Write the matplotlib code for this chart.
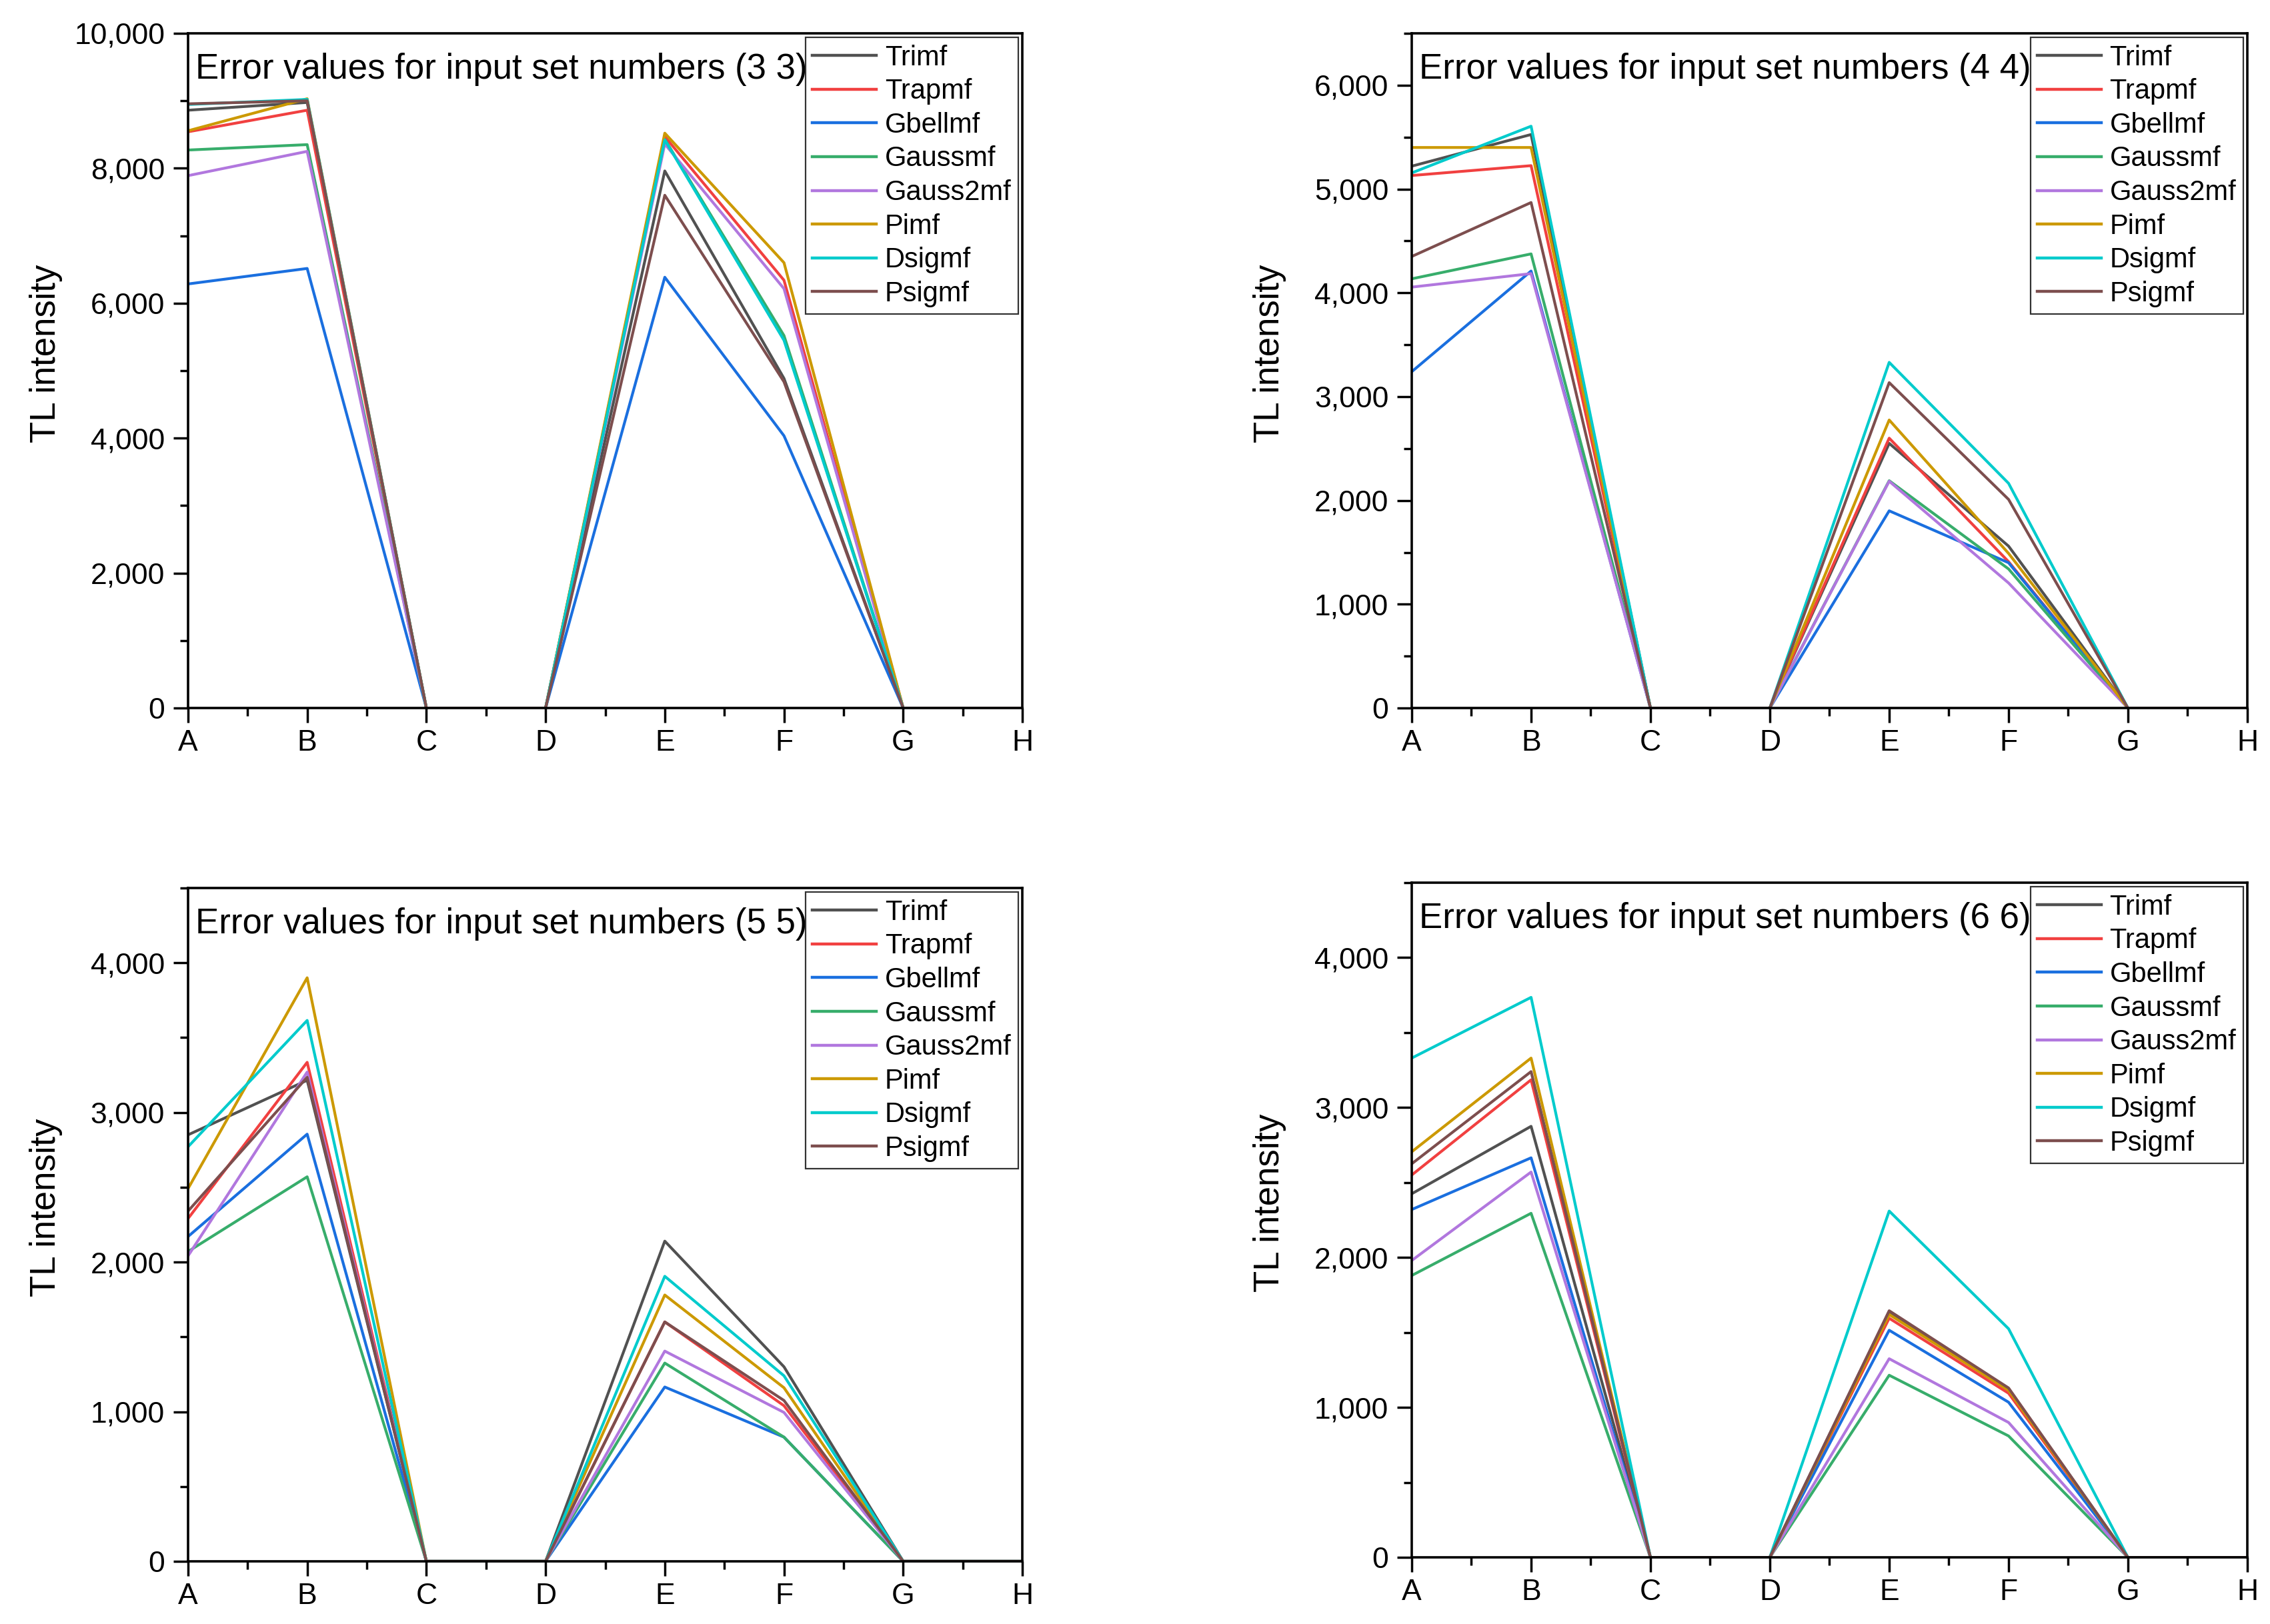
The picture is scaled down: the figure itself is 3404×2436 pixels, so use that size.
import matplotlib
matplotlib.use("Agg")
import matplotlib.pyplot as plt
from matplotlib.ticker import MultipleLocator, FuncFormatter

plt.rcParams['font.family'] = ['Liberation Sans', 'DejaVu Sans']

categories = ['A', 'B', 'C', 'D', 'E', 'F', 'G', 'H']
methods = ['Trimf', 'Trapmf', 'Gbellmf', 'Gaussmf', 'Gauss2mf', 'Pimf', 'Dsigmf', 'Psigmf']
colors = ['#515151', '#F14040', '#1A6FDF', '#37AD6B', '#B177DE', '#CC9900', '#00CBCC', '#7D4E4E']

# input set numbers (3 3)
set33_trimf    = [8860, 8975, 0, 0, 7960, 4885, 0, 0]
set33_trapmf   = [8540, 8860, 0, 0, 8470, 6340, 0, 0]
set33_gbellmf  = [6285, 6515, 0, 0, 6385, 4035, 0, 0]
set33_gaussmf  = [8270, 8350, 0, 0, 8430, 5520, 0, 0]
set33_gauss2mf = [7890, 8250, 0, 0, 8360, 6215, 0, 0]
set33_pimf     = [8555, 9030, 0, 0, 8520, 6600, 0, 0]
set33_dsigmf   = [8945, 9020, 0, 0, 8420, 5450, 0, 0]
set33_psigmf   = [8955, 9000, 0, 0, 7600, 4835, 0, 0]

# input set numbers (4 4)
set44_trimf    = [5220, 5525, 0, 0, 2550, 1560, 0, 0]
set44_trapmf   = [5130, 5225, 0, 0, 2600, 1410, 0, 0]
set44_gbellmf  = [3240, 4210, 0, 0, 1900, 1400, 0, 0]
set44_gaussmf  = [4135, 4375, 0, 0, 2190, 1340, 0, 0]
set44_gauss2mf = [4055, 4185, 0, 0, 2185, 1205, 0, 0]
set44_pimf     = [5400, 5400, 0, 0, 2775, 1490, 0, 0]
set44_dsigmf   = [5155, 5605, 0, 0, 3330, 2165, 0, 0]
set44_psigmf   = [4350, 4870, 0, 0, 3135, 2010, 0, 0]

# input set numbers (5 5)
set55_trimf    = [2850, 3215, 0, 0, 2140, 1300, 0, 0]
set55_trapmf   = [2290, 3335, 0, 0, 1600, 1040, 0, 0]
set55_gbellmf  = [2170, 2855, 0, 0, 1165, 830, 0, 0]
set55_gaussmf  = [2070, 2570, 0, 0, 1325, 830, 0, 0]
set55_gauss2mf = [2040, 3270, 0, 0, 1405, 995, 0, 0]
set55_pimf     = [2490, 3900, 0, 0, 1780, 1160, 0, 0]
set55_dsigmf   = [2770, 3615, 0, 0, 1905, 1240, 0, 0]
set55_psigmf   = [2340, 3235, 0, 0, 1600, 1075, 0, 0]

# input set numbers (6 6)
set66_trimf    = [2425, 2875, 0, 0, 1640, 1125, 0, 0]
set66_trapmf   = [2550, 3185, 0, 0, 1595, 1095, 0, 0]
set66_gbellmf  = [2320, 2665, 0, 0, 1515, 1035, 0, 0]
set66_gaussmf  = [1880, 2295, 0, 0, 1215, 810, 0, 0]
set66_gauss2mf = [1980, 2570, 0, 0, 1325, 900, 0, 0]
set66_pimf     = [2705, 3330, 0, 0, 1620, 1115, 0, 0]
set66_dsigmf   = [3330, 3735, 0, 0, 2310, 1525, 0, 0]
set66_psigmf   = [2625, 3240, 0, 0, 1645, 1130, 0, 0]

panels = [
    ('(3 3)', [set33_trimf, set33_trapmf, set33_gbellmf, set33_gaussmf,
               set33_gauss2mf, set33_pimf, set33_dsigmf, set33_psigmf],
     10000, 2000, 1000, [0.0828, 0.5640, 0.3676, 0.4155]),
    ('(4 4)', [set44_trimf, set44_trapmf, set44_gbellmf, set44_gaussmf,
               set44_gauss2mf, set44_pimf, set44_dsigmf, set44_psigmf],
     6500, 1000, 500, [0.6219, 0.5640, 0.3681, 0.4155]),
    ('(5 5)', [set55_trimf, set55_trapmf, set55_gbellmf, set55_gaussmf,
               set55_gauss2mf, set55_pimf, set55_dsigmf, set55_psigmf],
     4500, 1000, 500, [0.0828, 0.0386, 0.3676, 0.4146]),
    ('(6 6)', [set66_trimf, set66_trapmf, set66_gbellmf, set66_gaussmf,
               set66_gauss2mf, set66_pimf, set66_dsigmf, set66_psigmf],
     4500, 1000, 500, [0.6219, 0.0410, 0.3681, 0.4155]),
]

fig = plt.figure(figsize=(34.04, 24.36), dpi=100)
x = list(range(len(categories)))

for name, series, ymax, major, minor, rect in panels:
    ax = fig.add_axes(rect)
    for vals, lab, col in zip(series, methods, colors):
        ax.plot(x, vals, color=col, lw=3.0, label=lab)
    ax.set_xlim(0, 7)
    ax.set_ylim(0, ymax)
    ax.set_xticks(x)
    ax.set_xticklabels(categories)
    ax.xaxis.set_minor_locator(MultipleLocator(0.5))
    ax.yaxis.set_major_locator(MultipleLocator(major))
    ax.yaxis.set_minor_locator(MultipleLocator(minor))
    ax.yaxis.set_major_formatter(FuncFormatter(lambda v, p: '{:,.0f}'.format(v)))
    for s in ax.spines.values():
        s.set_linewidth(2.6)
    ax.tick_params(which='major', direction='out', length=16, width=2.5,
                   labelsize=32, pad=7)
    ax.tick_params(which='minor', direction='out', length=8.5, width=2.5)
    ax.tick_params(axis='y', which='major', pad=9)
    ax.set_ylabel('TL intensity', fontsize=38)
    ax.yaxis.set_label_coords(-0.150, 0.525)
    ax.text(0.009, 0.933, 'Error values for input set numbers ' + name,
            transform=ax.transAxes, fontsize=38, va='baseline', ha='left')
    leg = ax.legend(loc='upper right', bbox_to_anchor=(1.0, 1.0), fontsize=30,
                    frameon=True, fancybox=False, framealpha=1,
                    borderaxespad=0.15, borderpad=0.25, labelspacing=0.255,
                    handlelength=2.3, handletextpad=0.3)
    leg.get_frame().set_edgecolor('#333333')
    leg.get_frame().set_linewidth(1.6)
    for ln in leg.get_lines():
        ln.set_linewidth(3.2)

fig.savefig('out.png', dpi=100, facecolor='white')
